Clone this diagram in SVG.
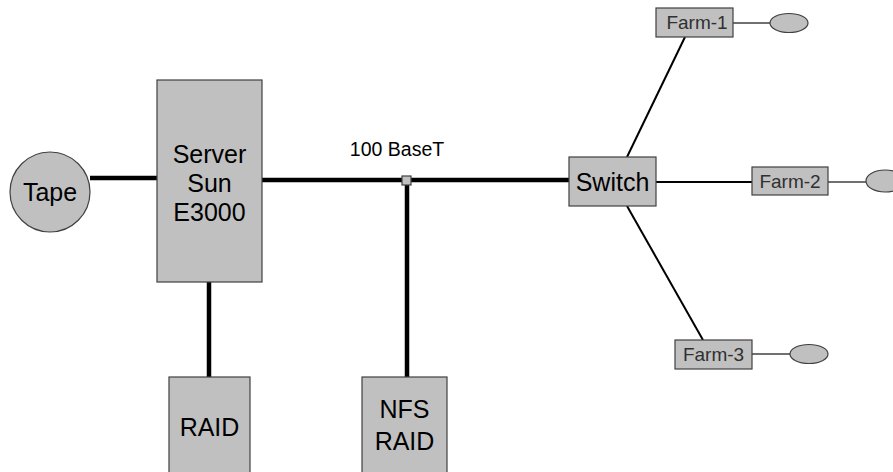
<svg xmlns="http://www.w3.org/2000/svg" width="893" height="472" viewBox="0 0 893 472">
<style>
.box{fill:#c0c0c0;stroke:#404040;stroke-width:1.2}
.big{font-family:"Liberation Sans",Arial,sans-serif;font-size:25px;fill:#000;text-anchor:middle}
.lbl{font-family:"Liberation Sans",Arial,sans-serif;font-size:19.5px;fill:#000;text-anchor:middle}
.small{font-family:"Liberation Sans",Arial,sans-serif;font-size:19px;fill:#303030;text-anchor:middle}
.thick{stroke:#000;stroke-width:4.5;fill:none}
.mid{stroke:#000;stroke-width:2;fill:none}
.thin{stroke:#404040;stroke-width:1.5;fill:none}
</style>
<rect width="893" height="472" fill="#fff"/>
<g id="connectors">
<line class="thick" x1="90" y1="178" x2="157" y2="178"/>
<line class="thick" x1="262" y1="180" x2="569" y2="180"/>
<line class="thick" x1="407" y1="180" x2="407" y2="377"/>
<line class="thick" x1="209" y1="282" x2="209" y2="377"/>
<line class="mid" x1="627" y1="157" x2="685" y2="37"/>
<line class="mid" x1="656" y1="182" x2="752" y2="182"/>
<line class="mid" x1="627" y1="206" x2="703" y2="340"/>
<line class="thin" x1="733" y1="23" x2="770" y2="23"/>
<line class="thin" x1="828" y1="182" x2="866" y2="182"/>
<line class="thin" x1="752" y1="354" x2="790" y2="354"/>
</g>
<g id="junction"><rect class="box" x="402" y="176" width="9" height="9"/></g>
<g id="label-100baset"><text class="lbl" x="397" y="156">100 BaseT</text></g>
<g id="tape">
<circle class="box" cx="50" cy="192" r="40"/>
<text class="big" x="50" y="201">Tape</text>
</g>
<g id="server">
<rect class="box" x="157" y="80" width="105" height="202"/>
<text class="big" x="209.5" y="163">Server</text>
<text class="big" x="209.5" y="192">Sun</text>
<text class="big" x="209.5" y="221">E3000</text>
</g>
<g id="raid">
<rect class="box" x="169" y="377" width="81" height="110"/>
<text class="big" x="209.5" y="436">RAID</text>
</g>
<g id="nfs-raid">
<rect class="box" x="362" y="377" width="85" height="110"/>
<text class="big" x="404.5" y="418">NFS</text>
<text class="big" x="404.5" y="450">RAID</text>
</g>
<g id="switch">
<rect class="box" x="569" y="157" width="87" height="49"/>
<text class="big" x="612.5" y="191">Switch</text>
</g>
<g id="farm-1">
<rect class="box" x="656" y="8" width="77" height="29"/>
<text class="small" x="697" y="29">Farm-1</text>
</g>
<g id="farm-1-disk"><ellipse class="box" cx="789" cy="23" rx="19" ry="9.5"/></g>
<g id="farm-2">
<rect class="box" x="752" y="167" width="76" height="28"/>
<text class="small" x="790" y="188">Farm-2</text>
</g>
<g id="farm-2-disk"><ellipse class="box" cx="885" cy="181" rx="19" ry="11"/></g>
<g id="farm-3">
<rect class="box" x="675" y="340" width="77" height="29"/>
<text class="small" x="713.5" y="361">Farm-3</text>
</g>
<g id="farm-3-disk"><ellipse class="box" cx="809" cy="354" rx="19" ry="9.5"/></g>
</svg>
